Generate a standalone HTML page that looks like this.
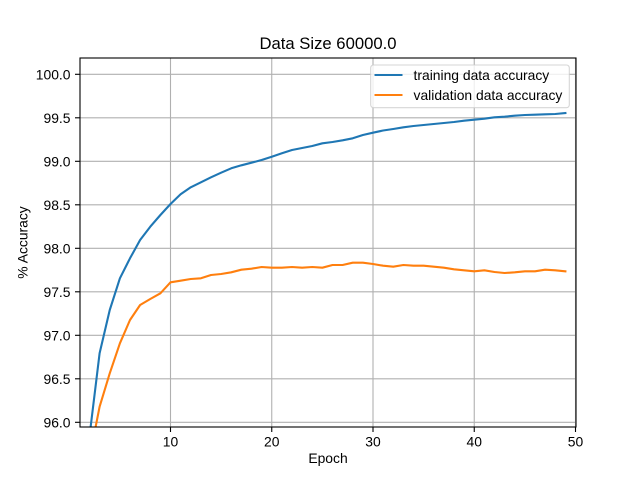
<!DOCTYPE html>
<html>
<head>
<meta charset="utf-8">
<style>
  html, body { margin: 0; padding: 0; background: #ffffff; width: 640px; height: 480px; overflow: hidden; }
  svg { display: block; }
  text { font-family: "Liberation Sans", Arial, sans-serif; fill: #000; }
</style>
</head>
<body>
<svg width="640" height="480" viewBox="0 0 640 480" xmlns="http://www.w3.org/2000/svg">
  <defs>
    <clipPath id="ax">
      <rect x="80" y="58" width="496" height="369"/>
    </clipPath>
  </defs>
  <rect x="0" y="0" width="640" height="480" fill="#ffffff"/>

  <!-- grid -->
  <g stroke="#b0b0b0" stroke-width="1.1" fill="none">
    <line x1="170.5" y1="58" x2="170.5" y2="427"/>
    <line x1="271.75" y1="58" x2="271.75" y2="427"/>
    <line x1="373" y1="58" x2="373" y2="427"/>
    <line x1="474.25" y1="58" x2="474.25" y2="427"/>
    <line x1="575.5" y1="58" x2="575.5" y2="427"/>
    <line x1="80" y1="74.3" x2="576" y2="74.3"/>
    <line x1="80" y1="117.8" x2="576" y2="117.8"/>
    <line x1="80" y1="161.3" x2="576" y2="161.3"/>
    <line x1="80" y1="204.8" x2="576" y2="204.8"/>
    <line x1="80" y1="248.3" x2="576" y2="248.3"/>
    <line x1="80" y1="291.8" x2="576" y2="291.8"/>
    <line x1="80" y1="335.3" x2="576" y2="335.3"/>
    <line x1="80" y1="378.8" x2="576" y2="378.8"/>
    <line x1="80" y1="422.3" x2="576" y2="422.3"/>
  </g>

  <!-- series -->
  <g clip-path="url(#ax)" fill="none" stroke-width="2.1" stroke-linejoin="round" stroke-linecap="square">
    <polyline stroke="#1f77b4" points="
      89.5,436.2 99.6,353.3 109.75,310 119.9,278.3 130,258.3 140.1,240 150.25,226.7 160.4,215 170.5,204
      180.6,194.3 190.75,187.3 200.9,182.3 211,177.3 221.1,172.7 231.25,168.3 241.4,165.3 251.5,162.7 261.6,160 271.75,156.7
      281.9,153.3 292,150 302.1,148 312.25,146 322.4,143.3 332.5,142 342.6,140.3 352.75,138.3 362.9,135 373,132.7
      383.1,130.5 393.25,129 403.4,127.3 413.5,126 423.6,125 433.75,124 443.9,123 454,122 464.1,120.7 474.25,119.7
      484.4,118.7 494.5,117.3 504.6,116.7 514.75,115.7 524.9,115 535,114.7 545.1,114.3 555.25,114 565.4,113"/>
    <polyline stroke="#ff7f0e" points="
      89.5,458 99.6,406.7 109.75,373.3 119.9,343.3 130,320 140.1,305 150.25,299 160.4,293.3 170.5,282.3
      180.6,280.7 190.75,279 200.9,278.3 211,275 221.1,274 231.25,272.3 241.4,269.7 251.5,268.7 261.6,267 271.75,267.7
      281.9,267.7 292,267 302.1,267.7 312.25,267 322.4,267.7 332.5,265 342.6,265 352.75,262.7 362.9,262.7 373,264
      383.1,265.7 393.25,266.7 403.4,265 413.5,265.7 423.6,265.7 433.75,266.7 443.9,267.7 454,269.3 464.1,270.3 474.25,271.3
      484.4,270.3 494.5,272 504.6,273 514.75,272.3 524.9,271.3 535,271.3 545.1,269.7 555.25,270.3 565.4,271.3"/>
  </g>

  <!-- spines -->
  <rect x="80" y="58" width="496" height="369" fill="none" stroke="#000" stroke-width="1.1"/>

  <!-- ticks -->
  <g stroke="#000" stroke-width="1.1">
    <line x1="170.5" y1="427" x2="170.5" y2="432"/>
    <line x1="271.75" y1="427" x2="271.75" y2="432"/>
    <line x1="373" y1="427" x2="373" y2="432"/>
    <line x1="474.25" y1="427" x2="474.25" y2="432"/>
    <line x1="575.5" y1="427" x2="575.5" y2="432"/>
    <line x1="75" y1="74.3" x2="80" y2="74.3"/>
    <line x1="75" y1="117.8" x2="80" y2="117.8"/>
    <line x1="75" y1="161.3" x2="80" y2="161.3"/>
    <line x1="75" y1="204.8" x2="80" y2="204.8"/>
    <line x1="75" y1="248.3" x2="80" y2="248.3"/>
    <line x1="75" y1="291.8" x2="80" y2="291.8"/>
    <line x1="75" y1="335.3" x2="80" y2="335.3"/>
    <line x1="75" y1="378.8" x2="80" y2="378.8"/>
    <line x1="75" y1="422.3" x2="80" y2="422.3"/>
  </g>

  <!-- tick labels -->
  <g font-size="13.89" text-anchor="middle">
    <text x="170.5" y="446.5">10</text>
    <text x="271.75" y="446.5">20</text>
    <text x="373" y="446.5">30</text>
    <text x="474.25" y="446.5">40</text>
    <text x="575.5" y="446.5">50</text>
  </g>
  <g font-size="13.89" text-anchor="end">
    <text x="70.5" y="79.3">100.0</text>
    <text x="70.5" y="122.8">99.5</text>
    <text x="70.5" y="166.3">99.0</text>
    <text x="70.5" y="209.8">98.5</text>
    <text x="70.5" y="253.3">98.0</text>
    <text x="70.5" y="296.8">97.5</text>
    <text x="70.5" y="340.3">97.0</text>
    <text x="70.5" y="383.8">96.5</text>
    <text x="70.5" y="427.3">96.0</text>
  </g>

  <!-- axis labels -->
  <text x="328" y="463" font-size="13.89" text-anchor="middle">Epoch</text>
  <text x="0" y="0" font-size="13.89" text-anchor="middle" transform="translate(27.5,242.5) rotate(-90)">% Accuracy</text>

  <!-- title -->
  <text x="328" y="49" font-size="16.67" text-anchor="middle">Data Size 60000.0</text>

  <!-- legend -->
  <rect x="370.7" y="65" width="198.6" height="42.7" rx="2.8" ry="2.8" fill="#ffffff" fill-opacity="0.8" stroke="#cccccc" stroke-opacity="0.8" stroke-width="1.1"/>
  <line x1="374.5" y1="75" x2="402.5" y2="75" stroke="#1f77b4" stroke-width="2.1"/>
  <line x1="374.5" y1="95" x2="402.5" y2="95" stroke="#ff7f0e" stroke-width="2.1"/>
  <text x="413.5" y="80" font-size="13.89">training data accuracy</text>
  <text x="413.5" y="100" font-size="13.89">validation data accuracy</text>
</svg>
</body>
</html>
